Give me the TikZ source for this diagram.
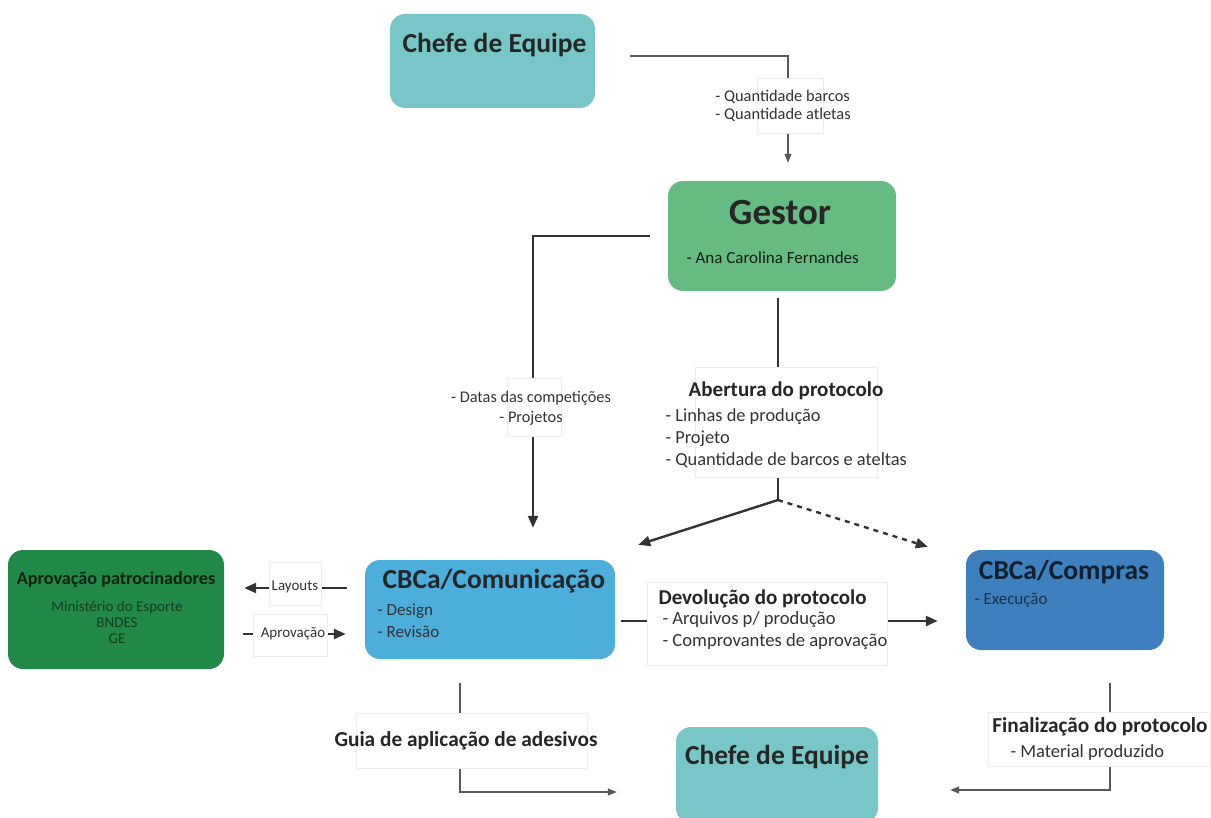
\documentclass[tikz,border=0pt]{standalone}
\usepackage{fontspec}
\setmainfont{Carlito}
\usepackage{xcolor}
\usetikzlibrary{arrows.meta}
\definecolor{chefecol}{RGB}{121,198,200}
\definecolor{gestorcol}{RGB}{102,187,131}
\definecolor{patrocol}{RGB}{33,137,72}
\definecolor{comcol}{RGB}{76,174,219}
\definecolor{comprascol}{RGB}{62,127,190}
\tikzset{
  box/.style={rounded corners=15pt, inner sep=0pt},
  ttl/.style={font=\bfseries\fontsize{27.5}{30}\selectfont, text=black!85},
  sub/.style={font=\fontsize{17}{22}\selectfont, text=black!80, align=left},
  lblbox/.style={fill=white, draw=black!7, inner sep=0pt},
  lbltxt/.style={font=\fontsize{16.4}{18}\selectfont, text=black!80},
  thinline/.style={draw=black!65, line width=1.4pt},
  thickline/.style={draw=black!80, line width=2.4pt},
  bigtip/.style={-{Triangle[length=12pt,width=10pt]}},
  smalltip/.style={-{Triangle[length=9pt,width=7pt]}},
}

\begin{document}
\begin{tikzpicture}[x=1pt,y=-1pt]
    \clip (0,0) rectangle (1211,818);

    % boxes
    \node[box,fill=chefecol,minimum width=205pt,minimum height=94pt] at (492.5,61) (chefetop) {};
    \node[box,fill=gestorcol,minimum width=228pt,minimum height=110pt] at (782,236) (gestor) {};
    \node[box,fill=patrocol,minimum width=216pt,minimum height=119pt] at (116,609.5) (patro) {};
    \node[box,fill=comcol,minimum width=250pt,minimum height=99pt] at (490,609.5) (comunic) {};
    \node[box,fill=comprascol,minimum width=198pt,minimum height=100pt] at (1065,600) (compras) {};
    \node[box,fill=chefecol,minimum width=202pt,minimum height=96pt] at (777,775) (chefebot) {};

    \node[ttl,anchor=west] at (399,45) (chefetoptxt) {Chefe de Equipe};
    \node[ttl,font=\bfseries\fontsize{37}{40}\selectfont] at (780,213) (gestortxt) {Gestor};
    \node[sub,anchor=west,text=black!85!gestorcol] at (683,258) (gestorsub) {- Ana Carolina Fernandes};
    \node[ttl,font=\bfseries\fontsize{18.2}{20}\selectfont,text=black!75!patrocol] at (116,580) (patrotxt) {Aprovação patrocinadores};
    \node[align=center,font=\fontsize{15}{16}\selectfont,text=black!55!patrocol] at (117,622) (patrosub) {Ministério do Esporte\\BNDES\\GE};
    \node[ttl,anchor=west] at (379,581) (comunictxt) {CBCa/Comunicação};
    \node[sub,anchor=west] at (374,620.5) (comunicsub) {- Design\\- Revisão};
    \node[ttl,text=black!75!comprascol] at (1064,572) (comprastxt) {CBCa/Compras};
    \node[sub,anchor=west,text=black!60!comprascol] at (971,600) (comprassub) {- Execução};
    \node[ttl] at (777,757) (chefebottxt) {Chefe de Equipe};

    % connectors
    \coordinate (split) at (778,500);
    \draw[thinline,smalltip,shorten <=35pt,shorten >=18pt] ([yshift=5pt]chefetop.east) -| ([xshift=6pt]gestor.north);
    \draw[thickline,bigtip,shorten <=18pt,shorten >=32pt] (gestor.west) -| ([xshift=43pt]comunic.north);
    \draw[thickline,shorten <=7pt] ([xshift=-4pt]gestor.south) -- (split);
    \draw[thickline,bigtip] (split) -- ([xshift=23pt,yshift=15pt]comunic.north east);
    \draw[thickline,bigtip,dashed,dash pattern=on 5pt off 5pt] (split) -- ([xshift=-38pt,yshift=3pt]compras.north west);
    \draw[thickline,bigtip,shorten <=18pt,shorten >=20pt] ([yshift=21.5pt]comunic.west) -- ([yshift=21.5pt]patro.east);
    \draw[thickline,bigtip,shorten <=19pt,shorten >=19pt] ([yshift=-24.5pt]patro.east) -- ([yshift=-24.5pt]comunic.west);
    \draw[thickline,bigtip,shorten <=6pt,shorten >=28pt] ([yshift=-11.5pt]comunic.east) -- ([yshift=-21pt]compras.west);
    \draw[thinline,smalltip,shorten <=24pt,shorten >=59pt] ([xshift=-30pt]comunic.south) |- ([yshift=-17pt]chefebot.west);
    \draw[thinline,smalltip,shorten <=33pt,shorten >=72pt] ([xshift=45pt]compras.south) |- ([yshift=-15pt]chefebot.east);

    % labels
    \node[lblbox,minimum width=66pt,minimum height=55pt] at (790,105.5) (qtdbox) {};
    \node[lbltxt,align=left] at (783,106) (qtd) {- Quantidade barcos\\- Quantidade atletas};
    \node[lblbox,minimum width=54pt,minimum height=58pt] at (534,407) (datasbox) {};
    \node[lbltxt,align=center,font=\fontsize{16.3}{20}\selectfont] at (531,408) (datas) {- Datas das competições\\- Projetos};
    \node[lblbox,minimum width=182pt,minimum height=110pt] at (786,422) (abbox) {};
    \node[ttl,font=\bfseries\fontsize{21}{22}\selectfont] at (786,391) (abtxt) {Abertura do protocolo};
    \node[sub,anchor=west,font=\fontsize{18.4}{22}\selectfont] at (662,438) (absub) {- Linhas de produção\\- Projeto\\- Quantidade de barcos e ateltas};
    \node[lblbox,minimum width=52pt,minimum height=43pt] at (295,583.5) (laybox) {};
    \node[lbltxt,font=\fontsize{15}{17}\selectfont] at (295,587) (lay) {Layouts};
    \node[lblbox,minimum width=74pt,minimum height=42pt] at (290,635) (aprbox) {};
    \node[lbltxt,font=\fontsize{15}{17}\selectfont] at (293,634) (apr) {Aprovação};
    \node[lblbox,minimum width=240pt,minimum height=83pt] at (767,623.5) (devbox) {};
    \node[ttl,anchor=west,font=\bfseries\fontsize{21}{22}\selectfont] at (655,599) (devtxt) {Devolução do protocolo};
    \node[sub,anchor=west,font=\fontsize{18.6}{22}\selectfont] at (659,631) (devsub) {- Arquivos p/ produção\\- Comprovantes de aprovação};
    \node[lblbox,minimum width=231pt,minimum height=55pt] at (471.5,740.5) (guiabox) {};
    \node[ttl,font=\bfseries\fontsize{21.3}{22}\selectfont] at (466,741) (guia) {Guia de aplicação de adesivos};
    \node[lblbox,minimum width=222pt,minimum height=54pt] at (1099,739) (finbox) {};
    \node[ttl,font=\bfseries\fontsize{21.3}{22}\selectfont] at (1100,727) (fintxt) {Finalização do protocolo};
    \node[sub,anchor=west,font=\fontsize{18.5}{22}\selectfont] at (1007,753) (finsub) {- Material produzido};
\end{tikzpicture}
\end{document}
